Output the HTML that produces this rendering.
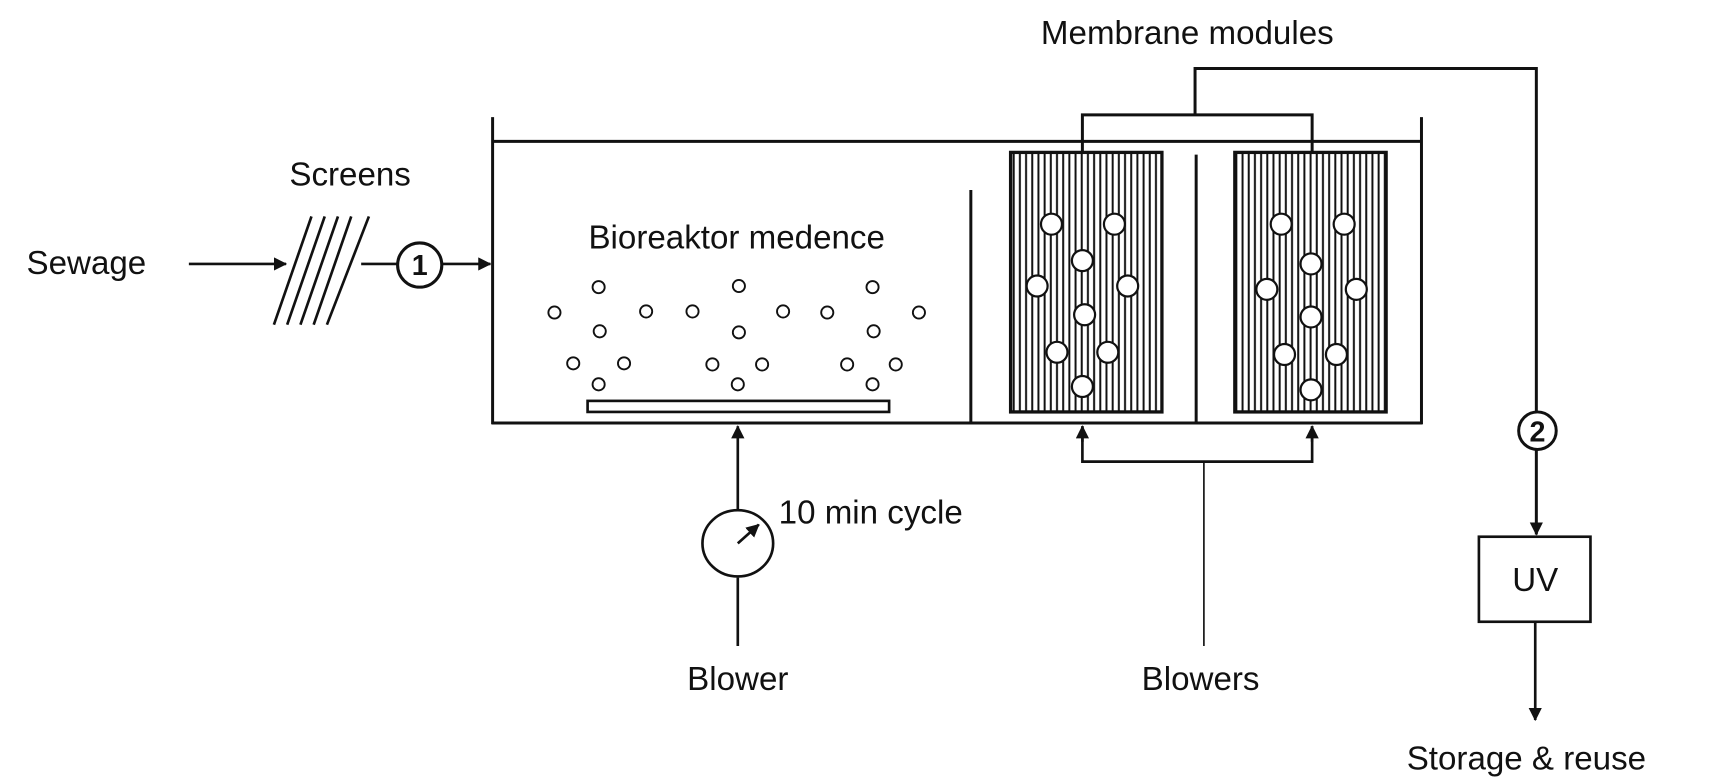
<!DOCTYPE html>
<html><head><meta charset="utf-8"><style>
html,body{margin:0;padding:0;background:#fff;}
svg{display:block;}
text{font-family:"Liberation Sans",sans-serif;fill:#111;}
</style></head><body>
<svg width="1723" height="783" viewBox="0 0 1560 709" preserveAspectRatio="none" xmlns="http://www.w3.org/2000/svg">
<defs>
<marker id="ah" markerWidth="12" markerHeight="12" refX="11" refY="6" orient="auto" markerUnits="userSpaceOnUse"><path d="M0,0 L12,6 L0,12 z" fill="#111"/></marker>
<pattern id="hatch" x="918" width="5.6" height="10" patternUnits="userSpaceOnUse"><line x1="2.8" y1="0" x2="2.8" y2="10" stroke="#111" stroke-width="1.8"/></pattern>
</defs>
<g transform="translate(-3,0)">
<g stroke="#111" fill="none" stroke-width="2.7">
<polyline points="1085,104 1085,62 1394,62 1394,373"/>
<line x1="1394" y1="407" x2="1394" y2="484" marker-end="url(#ah)"/>
<circle cx="1395" cy="390" r="17"/>
<polyline points="983,138 983,104 1191,104 1191,138"/>
<line x1="449" y1="106" x2="449" y2="384"/>
<line x1="1290" y1="106" x2="1290" y2="384"/>
<line x1="449" y1="128" x2="1290" y2="128"/>
<line x1="448" y1="383" x2="1291" y2="383"/>
<line x1="882" y1="172" x2="882" y2="383"/>
<line x1="1086" y1="140" x2="1086" y2="383"/>
<rect x="918" y="138" width="137" height="235" fill="url(#hatch)" stroke-width="3"/>
<rect x="1121" y="138" width="137" height="235" fill="url(#hatch)" stroke-width="3"/>
</g>
<g stroke="#111" fill="#fff" stroke-width="2">
<circle cx="955" cy="203" r="9.5"/><circle cx="1012" cy="203" r="9.5"/><circle cx="983" cy="236" r="9.5"/><circle cx="942" cy="259" r="9.5"/><circle cx="1024" cy="259" r="9.5"/><circle cx="985" cy="285" r="9.5"/><circle cx="960" cy="319" r="9.5"/><circle cx="1006" cy="319" r="9.5"/><circle cx="983" cy="350" r="9.5"/>
<circle cx="1163" cy="203" r="9.5"/><circle cx="1220" cy="203" r="9.5"/><circle cx="1190" cy="239" r="9.5"/><circle cx="1150" cy="262" r="9.5"/><circle cx="1231" cy="262" r="9.5"/><circle cx="1190" cy="287" r="9.5"/><circle cx="1166" cy="321" r="9.5"/><circle cx="1213" cy="321" r="9.5"/><circle cx="1190" cy="353" r="9.5"/>
</g>
<g stroke="#111" fill="#fff" stroke-width="1.7">
<circle cx="505" cy="283" r="5.5"/><circle cx="545" cy="260" r="5.5"/><circle cx="588" cy="282" r="5.5"/><circle cx="630" cy="282" r="5.5"/><circle cx="672" cy="259" r="5.5"/><circle cx="712" cy="282" r="5.5"/><circle cx="752" cy="283" r="5.5"/><circle cx="793" cy="260" r="5.5"/><circle cx="835" cy="283" r="5.5"/>
<circle cx="546" cy="300" r="5.5"/><circle cx="672" cy="301" r="5.5"/><circle cx="794" cy="300" r="5.5"/>
<circle cx="522" cy="329" r="5.5"/><circle cx="568" cy="329" r="5.5"/><circle cx="648" cy="330" r="5.5"/><circle cx="693" cy="330" r="5.5"/><circle cx="770" cy="330" r="5.5"/><circle cx="814" cy="330" r="5.5"/>
<circle cx="545" cy="348" r="5.5"/><circle cx="671" cy="348" r="5.5"/><circle cx="793" cy="348" r="5.5"/>
</g>
<g stroke="#111" fill="none" stroke-width="2.4">
<rect x="535" y="363" width="273" height="10"/>
<polyline points="983,386 983,418 1191,418 1191,386"/>
<line x1="983" y1="400" x2="983" y2="386" marker-end="url(#ah)"/>
<line x1="1191" y1="400" x2="1191" y2="386" marker-end="url(#ah)"/>
<line x1="1093" y1="418" x2="1093" y2="585" stroke-width="1.5"/>
<line x1="671" y1="585" x2="671" y2="523"/>
<line x1="671" y1="461" x2="671" y2="386" marker-end="url(#ah)"/>
<ellipse cx="671" cy="492" rx="32" ry="30"/>
<line x1="671" y1="492" x2="690" y2="475" marker-end="url(#ah)"/>
<line x1="174" y1="239" x2="262" y2="239" marker-end="url(#ah)"/>
<line x1="251" y1="294" x2="285" y2="196"/><line x1="263" y1="294" x2="297" y2="196"/><line x1="275" y1="294" x2="309" y2="196"/><line x1="287" y1="294" x2="321" y2="196"/><line x1="299" y1="294" x2="337" y2="196"/>
<line x1="330" y1="239" x2="363" y2="239"/>
<circle cx="383" cy="240" r="20" stroke-width="2.8"/>
<line x1="403" y1="239" x2="447" y2="239" marker-end="url(#ah)"/>
<rect x="1342" y="486" width="101" height="77"/>
<line x1="1393" y1="563" x2="1393" y2="652" marker-end="url(#ah)"/>
</g>
<text x="383" y="249" font-size="26" font-weight="bold" text-anchor="middle">1</text>
<text x="1395" y="400" font-size="26" font-weight="bold" text-anchor="middle">2</text>
<g font-size="30">
<text x="1078" y="40" text-anchor="middle">Membrane modules</text>
<text x="320" y="168" text-anchor="middle">Screens</text>
<text x="27" y="248">Sewage</text>
<text x="670" y="225" text-anchor="middle">Bioreaktor medence</text>
<text x="708" y="474">10 min cycle</text>
<text x="671" y="625" text-anchor="middle">Blower</text>
<text x="1090" y="625" text-anchor="middle">Blowers</text>
<text x="1393" y="535" text-anchor="middle">UV</text>
<text x="1385" y="697" text-anchor="middle">Storage &amp;  reuse</text>
</g>
</g>
</svg>
</body></html>
